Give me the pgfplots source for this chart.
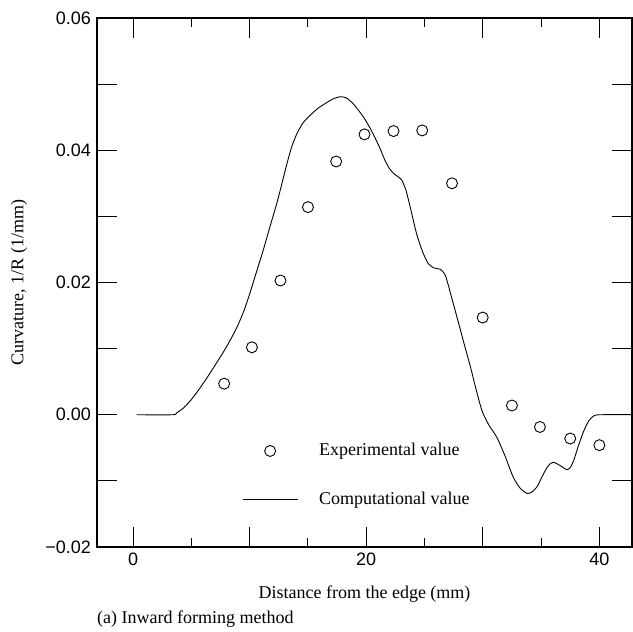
\documentclass[border=0pt]{standalone}
\usepackage{fontspec}
\setmainfont{Liberation Serif}
\setsansfont{Liberation Sans}
\usepackage{pgfplots}
\pgfplotsset{compat=1.18}
\begin{document}
\fontsize{18bp}{21bp}\selectfont
\begin{tikzpicture}
\begin{axis}[
  scale only axis,
  width=535bp, height=529bp,
  xmin=-3.1, xmax=42.8,
  ymin=-0.02, ymax=0.06,
  scaled y ticks=false,
  scaled x ticks=false,
  xtick={0,10,20,30,40},
  xticklabels={0,,20,,40},
  minor xtick={5,15,25,35},
  ytick={-0.02,-0.01,0,0.01,0.02,0.03,0.04,0.05,0.06},
  yticklabels={−0.02,,0.00,,0.02,,0.04,,0.06},
  major tick length=20bp,
  minor tick length=9bp,
  tick align=inside,
  every tick/.style={black, line width=1bp},
  axis line style={line width=1.1bp},
  ticklabel style={font=\sffamily\fontsize{18bp}{21bp}\selectfont},
  xlabel={Distance from the edge (mm)},
  ylabel={Curvature, 1/R (1/mm)},
  label style={font=\rmfamily\fontsize{18bp}{21bp}\selectfont},
  xlabel style={at={(axis description cs:0.5,-0.0964)}, anchor=base},
  ylabel style={at={(axis description cs:-0.1458,0.5)}, anchor=center},
  legend style={draw=none, fill=none, inner sep=0pt, at={(axis description cs:0.271,0.136)}, anchor=west,
    font=\rmfamily\fontsize{18bp}{21bp}\selectfont, row sep=33bp, column sep=21bp, nodes={inner sep=0pt}},
  legend cell align=left,
]
\addplot[only marks, mark=o, mark size=5.5bp, mark options={line width=0.9bp, black},
  legend image code/.code={\path[draw=none] (0bp,0bp) -- (55bp,0bp); \draw[line width=0.9bp, solid] (27.5bp,0bp) circle (5.5bp);}]
table {
x y
7.81 0.0047
10.19 0.0102
12.64 0.0203
15.0 0.0314
17.42 0.0383
19.85 0.0424
22.34 0.0429
24.8 0.0430
27.36 0.0350
29.99 0.0147
32.5 0.0014
34.9 -0.00185
37.5 -0.0036
40.0 -0.0046
};
\addlegendentry{Experimental value}
\addplot[black, line width=0.9bp, smooth, tension=0.4,
  legend image code/.code={\draw[line width=0.9bp] (0bp,0bp) -- (55bp,0bp);}]
table {
x y
0.3 0
3.4 0
3.75 0.0003
4.3 0.0010
4.9 0.0021
5.6 0.0037
6.3 0.0055
7.0 0.0074
7.75 0.0095
8.3 0.0112
8.9 0.0132
9.5 0.0157
10.04 0.0185
10.6 0.0217
11.18 0.0250
11.75 0.0285
12.33 0.0320
12.8 0.0352
13.2 0.0380
13.6 0.0405
14.05 0.0425
14.6 0.0442
15.2 0.0453
15.9 0.0464
16.6 0.0472
17.2 0.0478
17.77 0.0481
18.3 0.0479
18.9 0.0470
19.77 0.0450
20.5 0.0428
21.2 0.0402
21.6 0.0385
22.0 0.0372
22.4 0.0364
23.0 0.0356
23.4 0.0340
23.8 0.0312
24.3 0.0275
24.8 0.0248
25.3 0.0229
25.8 0.0222
26.35 0.0220
26.8 0.0210
27.36 0.0175
27.9 0.0140
28.4 0.0107
28.9 0.0075
29.4 0.0040
29.93 0.0006
30.5 -0.0015
31.2 -0.0034
31.9 -0.0062
32.6 -0.0094
33.2 -0.0111
33.8 -0.0119
34.2 -0.0117
34.65 -0.0109
35.1 -0.0093
35.5 -0.0080
35.8 -0.0074
36.1 -0.0072
36.65 -0.0077
37.2 -0.0083
37.5 -0.0080
37.8 -0.0069
38.2 -0.0047
38.65 -0.0025
39.1 -0.0009
39.5 -0.0002
40.0 0.0
42.8 0.0
};
\addlegendentry{Computational value}
\end{axis}
\node[anchor=base west, inner sep=0pt, font=\rmfamily\fontsize{18bp}{21bp}\selectfont] at ([yshift=-76bp]current axis.south west) {(a) Inward forming method};
\path ([shift={(-97bp,-85bp)}]current axis.south west) rectangle ([shift={(1bp,18bp)}]current axis.north east);
\end{tikzpicture}
\end{document}
